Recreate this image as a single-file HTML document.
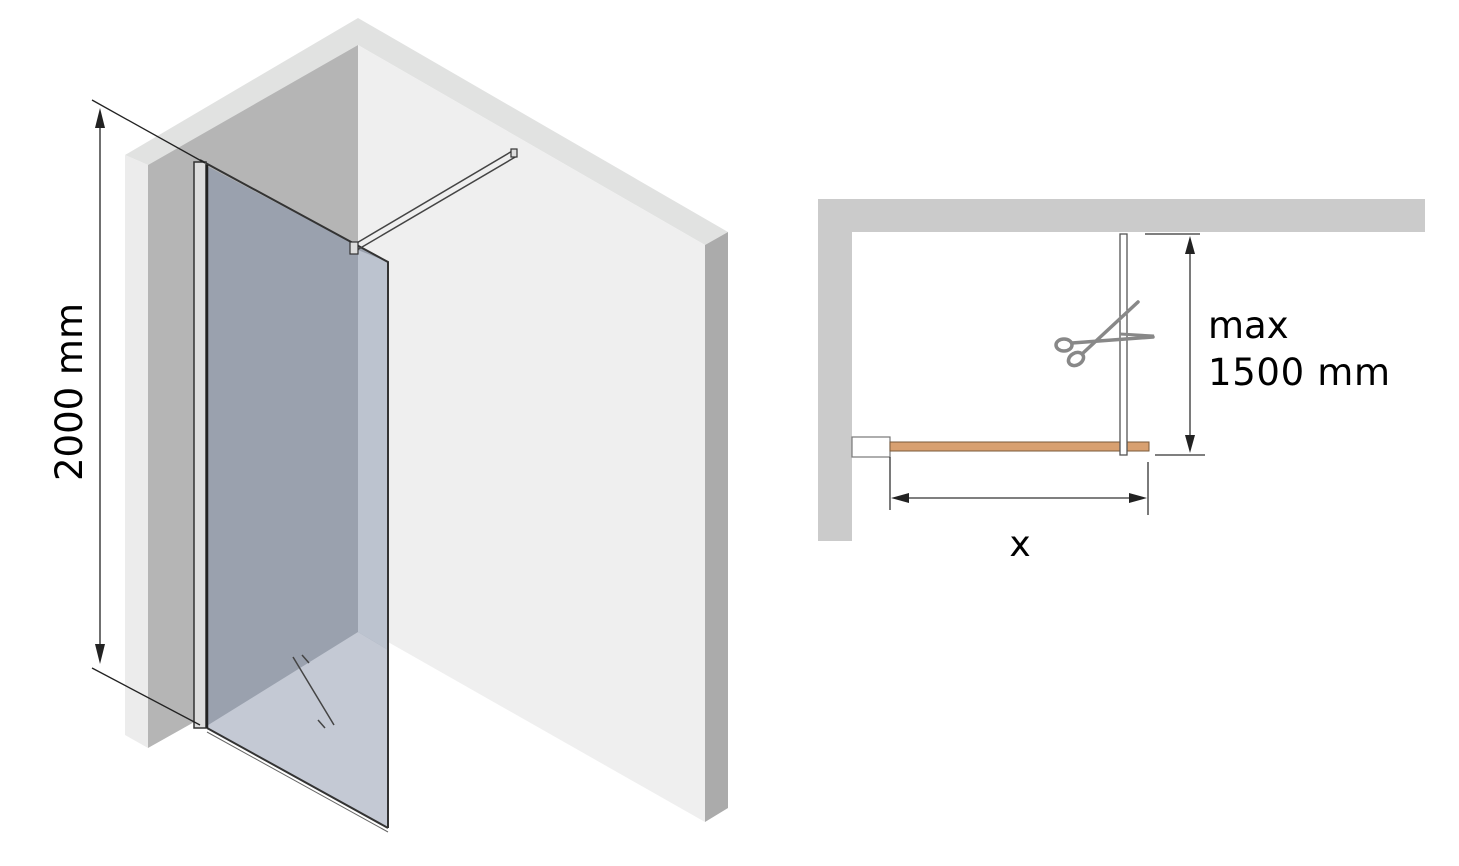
<!DOCTYPE html>
<html><head><meta charset="utf-8"><style>
html,body{margin:0;padding:0;background:#fff;}
svg{display:block;}
text{font-family:"DejaVu Sans","Liberation Sans",sans-serif;fill:#000;}
</style></head><body>
<svg width="1459" height="866" viewBox="0 0 1459 866" xmlns="http://www.w3.org/2000/svg">
<polygon points="125,155 358,18 728,232 705,245 358,45 148,165" fill="#e1e2e1"/>
<polygon points="125,155 148,165 148,748 125,735" fill="#ececec"/>
<polygon points="148,165 358,45 358,630 148,748" fill="#b5b5b5"/>
<polygon points="358,45 705,245 705,822 358,625" fill="#efefef"/>
<polygon points="705,245 728,232 728,808 705,822" fill="#ababab"/>
<polygon points="205,165 388,262 388,828 205,727" fill="#9aa1ae"/>
<polygon points="205,727 358,632 388,650 388,828" fill="#c4c9d4"/>
<polygon points="358,250 388,262 388,650 358,632" fill="#bcc3cf"/>
<polyline points="200,160 388,262 388,828" fill="none" stroke="#333" stroke-width="2"/>
<line x1="207" y1="728" x2="388" y2="828" stroke="#333" stroke-width="2"/>
<line x1="207" y1="732" x2="388" y2="832" stroke="#666" stroke-width="1"/>
<rect x="194" y="162" width="12" height="566" fill="#ddd" stroke="#333" stroke-width="1.5"/>
<line x1="207" y1="165" x2="207" y2="728" stroke="#222" stroke-width="2.5"/>
<line x1="355" y1="244" x2="514" y2="150" stroke="#444" stroke-width="1.5"/>
<line x1="357" y1="250" x2="517" y2="156" stroke="#444" stroke-width="1.5"/>
<rect x="350" y="242" width="8" height="12" fill="#ddd" stroke="#333" stroke-width="1.2"/>
<rect x="511" y="149" width="6" height="8" fill="#ddd" stroke="#333" stroke-width="1.2"/>
<line x1="293" y1="657" x2="334" y2="725" stroke="#444" stroke-width="1.5"/>
<line x1="302" y1="655" x2="309" y2="663" stroke="#444" stroke-width="1.5"/>
<line x1="318" y1="720" x2="325" y2="728" stroke="#444" stroke-width="1.5"/>
<line x1="92" y1="100" x2="205" y2="163" stroke="#222" stroke-width="1.3"/>
<line x1="92" y1="668" x2="200" y2="725" stroke="#222" stroke-width="1.3"/>
<line x1="100" y1="115" x2="100" y2="655" stroke="#222" stroke-width="1.3"/>
<polygon points="100,108 95,128 105,128" fill="#222"/>
<polygon points="100,664 95,644 105,644" fill="#222"/>
<text x="0" y="0" font-size="37" text-anchor="middle" transform="translate(82,392) rotate(-90)">2000 mm</text>

<rect x="818" y="199" width="607" height="33" fill="#cbcbcb"/>
<rect x="818" y="199" width="34" height="342" fill="#cbcbcb"/>
<rect x="852" y="437" width="38" height="20" fill="#fff" stroke="#777" stroke-width="1.2"/>
<rect x="890" y="442" width="259" height="9" fill="#d8a070" stroke="#7a5a3a" stroke-width="1"/>
<rect x="1120" y="234" width="7" height="221" fill="#fff" stroke="#555" stroke-width="1.3"/>
<g stroke="#888" fill="none" stroke-width="3.5" stroke-linecap="round">
<ellipse cx="1064" cy="345" rx="8" ry="6"/>
<ellipse cx="1076" cy="359" rx="8" ry="6" transform="rotate(-30 1076 359)"/>
<line x1="1072" y1="343" x2="1153" y2="337"/>
<line x1="1082" y1="354" x2="1138" y2="302"/>
</g>
<line x1="1120" y1="334" x2="1154" y2="336" stroke="#888" stroke-width="3"/>
<line x1="1145" y1="234" x2="1200" y2="234" stroke="#333" stroke-width="1.3"/>
<line x1="1155" y1="455" x2="1205" y2="455" stroke="#333" stroke-width="1.3"/>
<line x1="1190" y1="245" x2="1190" y2="444" stroke="#333" stroke-width="1.3"/>
<polygon points="1190,236 1185,254 1195,254" fill="#222"/>
<polygon points="1190,453 1185,435 1195,435" fill="#222"/>
<line x1="890" y1="457" x2="890" y2="510" stroke="#333" stroke-width="1.3"/>
<line x1="1148" y1="462" x2="1148" y2="515" stroke="#333" stroke-width="1.3"/>
<line x1="898" y1="498" x2="1140" y2="498" stroke="#333" stroke-width="1.3"/>
<polygon points="891,498 909,493 909,503" fill="#222"/>
<polygon points="1147,498 1129,493 1129,503" fill="#222"/>
<text x="1020" y="556" font-size="36" text-anchor="middle">x</text>
<text x="1208" y="338" font-size="37">max</text>
<text x="1208" y="385" font-size="37" textLength="182">1500 mm</text>
</svg>
</body></html>
